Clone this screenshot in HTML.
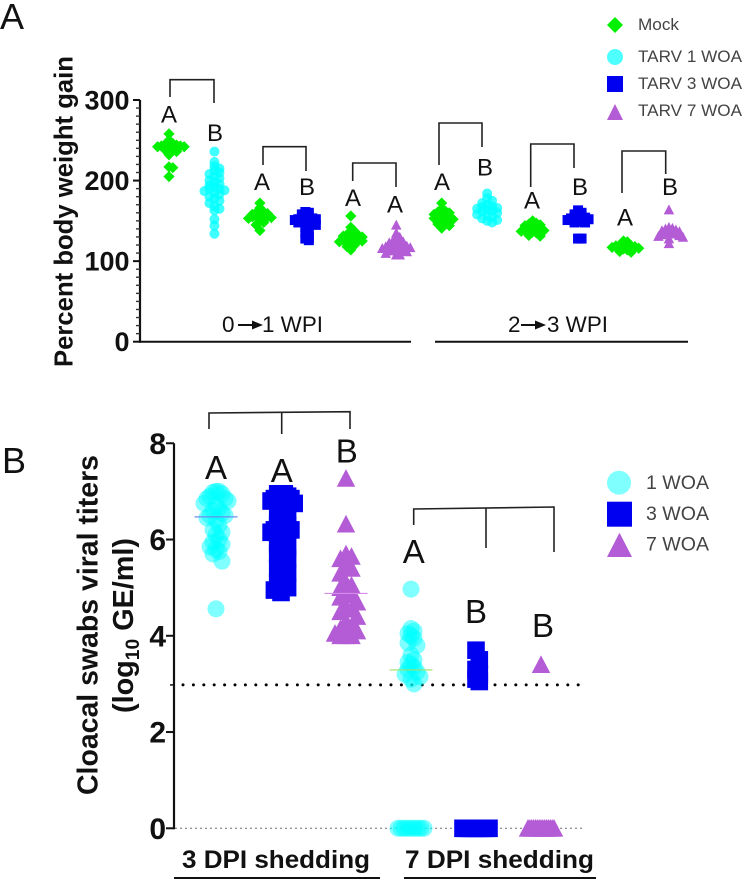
<!DOCTYPE html>
<html lang="en">
<head>
<meta charset="utf-8">
<title>Percent body weight gain and cloacal swab viral titers</title>
<style>
html,body{margin:0;padding:0;background:#fff;width:744px;height:881px;overflow:hidden}
svg{display:block;font-family:"Liberation Sans",sans-serif}
.br{fill:none;stroke:#222;stroke-width:1.6}
.la{font-size:24px;text-anchor:middle;fill:#111}
.lb{font-size:33px;text-anchor:middle;fill:#111}
.tb{font-weight:700;text-anchor:end;fill:#111}
.lg{fill:#444}
</style>
</head>
<body>
<svg id="fig" width="744" height="881" viewBox="0 0 744 881" xmlns="http://www.w3.org/2000/svg">
  <rect width="744" height="881" fill="#fff"/>

  <text x="0" y="29" font-size="36" fill="#111">A</text>
  <text x="2" y="473" font-size="36" fill="#111">B</text>

  <text transform="translate(72.5,367) rotate(-90)" font-size="25.7" font-weight="700" fill="#111" textLength="311" lengthAdjust="spacingAndGlyphs">Percent body weight gain</text>
  <text transform="translate(97.5,795) rotate(-90)" font-size="28.4" font-weight="700" fill="#111" textLength="340" lengthAdjust="spacingAndGlyphs">Cloacal swabs viral titers</text>
  <text transform="translate(133,713) rotate(-90)" font-size="28.4" font-weight="700" fill="#111" textLength="175" lengthAdjust="spacingAndGlyphs">(log<tspan font-size="19" dy="6">10</tspan><tspan dy="-6"> GE/ml)</tspan></text>

  <g id="axesA"></g>
  <g id="axesB"></g>
  <g id="marksA"></g>
  <g id="marksB"></g>

  <g font-size="22.5" fill="#111">
    <text x="222" y="332">0</text>
    <line x1="238" y1="325" x2="254" y2="325" stroke="#111" stroke-width="2"/>
    <polygon points="252,320.5 263,325 252,329.5" fill="#111"/>
    <text x="262" y="332" textLength="61" lengthAdjust="spacingAndGlyphs">1 WPI</text>
    <text x="508" y="332">2</text>
    <line x1="521" y1="325" x2="537" y2="325" stroke="#111" stroke-width="2"/>
    <polygon points="535,320.5 546,325 535,329.5" fill="#111"/>
    <text x="547" y="332" textLength="61" lengthAdjust="spacingAndGlyphs">3 WPI</text>
  </g>

  <g>
    <path class="br" d="M170 97V79.7H214V103"/>
    <path class="br" d="M263 165V146.7H306V171"/>
    <path class="br" d="M352.7 181V163H396V187"/>
    <path class="br" d="M439 165V123H482V147"/>
    <path class="br" d="M530.7 187V144H574V168"/>
    <path class="br" d="M622 193V151H665.7V174"/>
  </g>
  <g>
    <text class="la" x="169" y="122.7">A</text>
    <text class="la" x="215" y="141">B</text>
    <text class="la" x="262" y="190">A</text>
    <text class="la" x="307" y="195">B</text>
    <text class="la" x="353" y="206">A</text>
    <text class="la" x="395" y="212.7">A</text>
    <text class="la" x="442" y="190">A</text>
    <text class="la" x="485" y="175.7">B</text>
    <text class="la" x="532" y="208.7">A</text>
    <text class="la" x="580" y="195">B</text>
    <text class="la" x="625" y="225.7">A</text>
    <text class="la" x="670" y="195">B</text>
  </g>

  <g>
    <polygon points="615,17 623,25 615,33 607,25" fill="#00f000"/>
    <text class="lg" x="638" y="30" font-size="17" textLength="41" lengthAdjust="spacingAndGlyphs">Mock</text>
    <circle cx="615" cy="57" r="8" fill="#4dffff"/>
    <text class="lg" x="638" y="62" font-size="17" textLength="104" lengthAdjust="spacingAndGlyphs">TARV 1 WOA</text>
    <rect x="607" y="76" width="16" height="16" fill="#0000f0"/>
    <text class="lg" x="638" y="89" font-size="17" textLength="104" lengthAdjust="spacingAndGlyphs">TARV 3 WOA</text>
    <polygon points="615,104 623,120 607,120" fill="#b35cd6"/>
    <text class="lg" x="638" y="116" font-size="17" textLength="104" lengthAdjust="spacingAndGlyphs">TARV 7 WOA</text>
  </g>

  <g>
    <path class="br" d="M209 429V413L350 411.7V429"/>
    <path class="br" d="M281.7 412.5V434"/>
    <path class="br" d="M413.7 525V509L554 507V552"/>
    <path class="br" d="M486 508V548"/>
  </g>
  <g>
    <text class="lb" x="216" y="479">A</text>
    <text class="lb" x="281.7" y="482">A</text>
    <text class="lb" x="346.7" y="462.7">B</text>
    <text class="lb" x="413.7" y="563">A</text>
    <text class="lb" x="476" y="623">B</text>
    <text class="lb" x="543" y="637">B</text>
  </g>

  <g>
    <circle cx="619" cy="482.7" r="12" fill="#80ffff"/>
    <text class="lg" x="646" y="489" font-size="19.5" textLength="63" lengthAdjust="spacingAndGlyphs">1 WOA</text>
    <rect x="607" y="501.7" width="25" height="25" fill="#0000f0"/>
    <text class="lg" x="646" y="520" font-size="19.5" textLength="63" lengthAdjust="spacingAndGlyphs">3 WOA</text>
    <polygon points="619.5,532.7 632,557 607,557" fill="#b35cd6"/>
    <text class="lg" x="646" y="550.7" font-size="19.5" textLength="63" lengthAdjust="spacingAndGlyphs">7 WOA</text>
  </g>

  <g>
    <text x="182" y="868" font-size="25" font-weight="700" fill="#111" textLength="188" lengthAdjust="spacingAndGlyphs">3 DPI shedding</text>
    <line x1="174" y1="878" x2="380" y2="878" stroke="#111" stroke-width="2"/>
    <text x="405" y="868" font-size="25" font-weight="700" fill="#111" textLength="189" lengthAdjust="spacingAndGlyphs">7 DPI shedding</text>
    <line x1="404" y1="878" x2="596" y2="878" stroke="#111" stroke-width="2"/>
  </g>
</svg>

<script>
// Panel A data: percent body weight gain
const weightCategories = ["Mock 0-1a","TARV 1 WOA 0-1","Mock 0-1b","TARV 3 WOA 0-1","Mock 0-1c","TARV 7 WOA 0-1","Mock 2-3a","TARV 1 WOA 2-3","Mock 2-3b","TARV 3 WOA 2-3","Mock 2-3c","TARV 7 WOA 2-3"];
const weightKinds = ["mock","w1","mock","w3","mock","w7","mock","w1","mock","w3","mock","w7"];
const weightTicks = [0,100,200,300];
const weightMock1 = [258,250,248,246,245,244,243,243,242,242,241,240,238,236,232,217,216,205];
const weightTarv1a = [236,223,218,215,213,210,208,205,203,200,198,196,194,192,190,190,188,187,185,183,180,178,175,172,168,165,163,152,144,134];
const weightMock2 = [172,166,163,161,160,159,158,157,157,156,155,155,154,153,150,148,145,138];
const weightTarv3a = [161,160,158,156,155,154,153,152,152,151,150,150,149,149,148,145,142,138,135,130,128,126];
const weightMock3 = [156,142,137,135,134,133,132,131,130,129,128,128,127,126,125,124,122,120,118,114];
const weightTarv7a = [145,135,130,128,126,125,124,123,122,122,121,120,120,119,118,117,116,115,115,114,113,113,112,110,108,108];
const weightMock4 = [172,165,163,162,161,160,158,157,156,155,154,153,152,150,148,146,144,141];
const weightTarv1b = [184,178,175,172,170,168,167,166,165,164,163,162,160,158,157,155,153,151,150,148];
const weightMock5 = [150,147,146,145,144,143,142,141,140,139,138,137,136,135,132,131];
const weightTarv3b = [163,160,158,157,156,155,154,153,152,151,150,149,148,148,128,128];
const weightMock6 = [125,124,122,121,120,119,119,118,117,116,115,114,112,111];
const weightTarv7b = [164,142,141,140,139,138,137,136,135,135,134,133,132,131,130,128,122];

// Panel B data: cloacal swab viral titers
const titerCategories = ["3 DPI 1 WOA","3 DPI 3 WOA","3 DPI 7 WOA","7 DPI 1 WOA","7 DPI 3 WOA","7 DPI 7 WOA"];
const titerKinds = ["w1","w3","w7","w1","w3","w7"];
const titerTicks = [0,2,4,6,8];
const titer3dpi1 = [7,7,6.98,6.95,6.9,6.85,6.85,6.8,6.75,6.7,6.65,6.6,6.55,6.5,6.5,6.45,6.4,6.3,6.2,6.15,6.1,6,5.95,5.9,5.85,5.8,5.75,5.7,5.55,4.56];
const titer3dpi3 = [6.95,6.95,6.95,6.9,6.85,6.85,6.8,6.75,6.7,6.5,6.45,6.45,6.4,6.35,6.3,6.3,6.2,6.2,6.15,6.1,6.05,5.9,5.85,5.8,5.75,5.7,5.6,5.5,5.45,5.4,5.3,5.2,5.15,5.1,5,4.95,4.9];
const titer3dpi7 = [7.27,6.32,5.7,5.65,5.6,5.5,5.4,5.3,5.1,5.05,5,4.9,4.85,4.8,4.7,4.6,4.55,4.5,4.4,4.3,4.2,4.15,4.1,4.05,4,4,4];
const titer7dpi1 = [4.97,4.15,4.1,4.05,4,3.95,3.85,3.8,3.6,3.5,3.45,3.4,3.35,3.3,3.25,3.2,3.15,3.1,3,0,0,0,0,0,0,0,0,0];
const titer7dpi3 = [3.7,3.5,3.3,3.2,3.1,3.05,0,0,0,0,0,0,0,0,0];
const titer7dpi7 = [3.4,0,0,0,0,0,0,0,0,0,0,0,0,0,0,0];
const titerMeans = [6.47,null,4.88,3.29,null,null];
const titerDetectionLimit = 3;
const titerZeroLine = 0;

const weightSeries = [weightMock1,weightTarv1a,weightMock2,weightTarv3a,weightMock3,weightTarv7a,weightMock4,weightTarv1b,weightMock5,weightTarv3b,weightMock6,weightTarv7b];
const titerSeries = [titer3dpi1,titer3dpi3,titer3dpi7,titer7dpi1,titer7dpi3,titer7dpi7];

const NS = "http://www.w3.org/2000/svg";
function node(parent, tag, attrs) {
  const el = document.createElementNS(NS, tag);
  for (const k in attrs) el.setAttribute(k, attrs[k]);
  parent.appendChild(el);
  return el;
}
const yA = v => 341.7 - v * 241.7 / 300;
const xA = i => 169 + i * 45.45;
const yB = v => 828.3 - v * 48.13;
const xB = i => 216 + i * 65;
const colours = {mock:"#00f000", w1:"#00ffff", w3:"#0000f0", w7:"#b35cd6"};

function swarm(values, bin, step, zeroSpread) {
  const counts = {};
  const zeros = values.filter(v => v === 0).length;
  const zeroStep = zeros > 1 ? 2 * zeroSpread / (zeros - 1) : 0;
  return values.map(v => {
    const k = Math.round(v / bin);
    const n = counts[k] || 0;
    counts[k] = n + 1;
    return (n % 2 ? 1 : -1) * Math.ceil(n / 2) * (v === 0 ? zeroStep : step);
  });
}
function marker(parent, kind, cx, cy, s, opacity) {
  let el;
  if (kind === "mock") {
    el = node(parent, "polygon", {points:`${cx},${cy-s} ${cx+s},${cy} ${cx},${cy+s} ${cx-s},${cy}`});
  } else if (kind === "w1") {
    el = node(parent, "circle", {cx:cx, cy:cy, r:s});
  } else if (kind === "w3") {
    el = node(parent, "rect", {x:cx-s, y:cy-s, width:2*s, height:2*s});
  } else {
    el = node(parent, "polygon", {points:`${cx},${cy-s*1.05} ${cx+s*1.05},${cy+s*0.95} ${cx-s*1.05},${cy+s*0.95}`});
  }
  el.setAttribute("fill", colours[kind]);
  if (opacity < 1) el.setAttribute("fill-opacity", opacity);
  return el;
}

// Panel A axes
const axesA = document.getElementById("axesA");
const axisA = node(axesA, "line", {x1:140, y1:yA(300), x2:140, y2:yA(0)+1, stroke:"#111", "stroke-width":2.2});


for (let v = 0; v < 300; v += 10) {
  if (v % 100 === 0) continue;
  const t = node(axesA, "line", {x1:136, x2:140, y1:yA(v), y2:yA(v), stroke:"#333", "stroke-width":1.4});
  
  
}
weightTicks.forEach(v => {
  const t = node(axesA, "line", {x1:133, x2:140, y1:yA(v), y2:yA(v), stroke:"#111", "stroke-width":2});
  
  
  const l = node(axesA, "text", {x:129.5, y:yA(v)+9.5, "font-size":27, class:"tb"});
  l.textContent = v;
  
  
});
const baseA1 = node(axesA, "line", {x1:140, x2:411, y1:yA(0), y2:yA(0), stroke:"#111", "stroke-width":2});


const baseA2 = node(axesA, "line", {x1:435, x2:688, y1:yA(0), y2:yA(0), stroke:"#111", "stroke-width":2});



// Panel A points
const marksA = document.getElementById("marksA");
weightSeries.forEach((vals, i) => {
  const kind = weightKinds[i];
  const g = node(marksA, "g", {});
  
  
  const size = kind === "mock" ? 5.6 : 5;
  const off = swarm(vals, 7, kind === "w1" ? 5 : kind === "mock" ? 3.8 : 3.5, 0);
  vals.forEach((v, j) => {
    const m = marker(g, kind, xA(i) + off[j], yA(v), size, kind === "w1" ? 0.75 : 1);
    
    
  });
});

// Panel B axes
const axesB = document.getElementById("axesB");
const axisB = node(axesB, "line", {x1:174, y1:yB(8), x2:174, y2:yB(0)+1, stroke:"#111", "stroke-width":2.2});


titerTicks.forEach(v => {
  const t = node(axesB, "line", {x1:166, x2:174, y1:yB(v), y2:yB(v), stroke:"#111", "stroke-width":2});
  
  
  const l = node(axesB, "text", {x:166, y:yB(v)+10.5, "font-size":30, class:"tb"});
  l.textContent = v;
  
  
});
const minorB = node(axesB, "line", {x1:170, x2:174, y1:yB(titerDetectionLimit)+1, y2:yB(titerDetectionLimit)+1, stroke:"#111", "stroke-width":1.5});


const limit = node(axesB, "line", {x1:183, x2:580, y1:yB(titerDetectionLimit)+1, y2:yB(titerDetectionLimit)+1, stroke:"#000", "stroke-width":3, "stroke-linecap":"round", "stroke-dasharray":"0 10.4"});


const zeroLine = node(axesB, "line", {x1:176, x2:584, y1:yB(titerZeroLine), y2:yB(titerZeroLine), stroke:"#222", "stroke-width":1.3, "stroke-linecap":"round", "stroke-dasharray":"0 5"});



// Panel B points
const marksB = document.getElementById("marksB");
titerSeries.forEach((vals, i) => {
  const kind = titerKinds[i];
  const g = node(marksB, "g", {});
  
  
  const size = kind === "w1" ? 8.5 : 8.8;
  const off = swarm(vals, 0.3, kind === "w1" ? 3 : kind === "w7" ? 5.5 : 3.3, 13);
  vals.forEach((v, j) => {
    const m = marker(g, kind, xB(i) + off[j], yB(v), size, kind === "w1" ? 0.5 : 1);
    
    
  });
  if (titerMeans[i] !== null) {
    const mean = node(g, "line", {x1:xB(i)-21.5, x2:xB(i)+21.5, y1:yB(titerMeans[i]), y2:yB(titerMeans[i]), "stroke-width":1.2,
      stroke: i === 0 ? "#6a8fe8" : i === 2 ? "#d58be8" : "#9fe06a"});
    
    
  }
});
</script>
</body>
</html>
